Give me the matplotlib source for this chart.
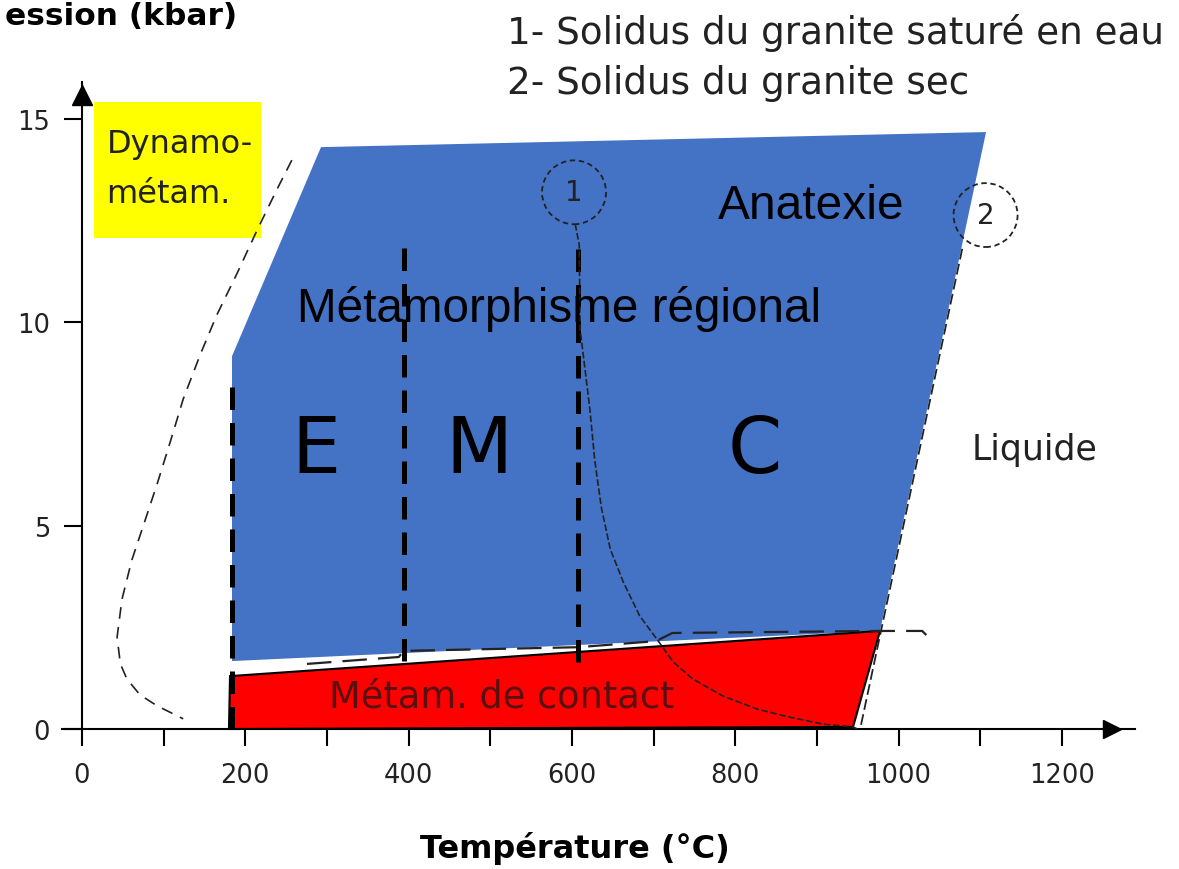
import matplotlib.pyplot as plt
from matplotlib.patches import Polygon, Rectangle, Ellipse

# axis ticks
x_major = [0, 200, 400, 600, 800, 1000, 1200]
x_minor = [100, 300, 500, 700, 900, 1100]
y_ticks = [0, 5, 10, 15]

# domaine du metamorphisme regional (bleu)
regional_T = [292.7, 1107.2, 977.3, 183.7, 183.7]
regional_P = [14.30, 14.67, 2.41, 1.67, 9.16]

# metamorphisme de contact (rouge)
contact_T = [181.3, 977.3, 944.3, 180.0]
contact_P = [1.30, 2.41, 0.05, 0.0]

# solidus du granite sature en eau (1)
sol1_T = [604, 609, 610, 616, 622, 628, 636, 647, 663, 683, 704, 724, 748, 785, 827, 867, 908, 944, 950]
sol1_P = [12.41, 11.9, 9.83, 8.85, 7.86, 6.60, 5.45, 4.42, 3.61, 2.78, 2.21, 1.65, 1.23, 0.81, 0.49, 0.29, 0.12, 0.05, 0.0]

# solidus du granite sec (2)
sol2_T = [1078, 953]
sol2_P = [11.8, 0.0]

# limite basse temperature (dynamometamorphisme)
dyn_T = [257, 239, 214, 190, 165, 145, 124, 108, 92, 75, 61, 49, 43, 47, 55, 71, 92, 124]
dyn_P = [13.98, 13.27, 12.24, 11.20, 10.17, 9.21, 8.11, 7.05, 6.02, 4.99, 4.15, 3.19, 2.26, 1.60, 1.23, 0.84, 0.57, 0.25]

# limite contact / regional
lim_T = [275.6, 388, 394, 607, 703, 723, 977, 1029, 1034]
lim_P = [1.60, 1.77, 1.92, 2.01, 2.16, 2.36, 2.41, 2.41, 2.31]

# limites des zones E / M / C
iso_T = [184, 394, 608]
iso_top = [8.7, 11.84, 12.0]
iso_bot = [0.0, 1.67, 1.65]

fig = plt.figure(figsize=(11.79, 8.7), dpi=100)
ax = fig.add_axes([0, 0, 1, 1])
ax.set_xlim(-100.4, 1343.5)
ax.set_ylim(-3.44, 17.94)

for s in ['top', 'right']:
    ax.spines[s].set_visible(False)
ax.spines['left'].set_position(('data', 0))
ax.spines['bottom'].set_position(('data', 0))
ax.spines['left'].set_bounds(0, 15.9)
ax.spines['bottom'].set_bounds(-25, 1290)
ax.spines['left'].set_linewidth(1.5)
ax.spines['bottom'].set_linewidth(1.5)

ax.set_xticks(x_major)
ax.set_xticks(x_minor, minor=True)
ax.set_yticks(y_ticks)
ax.tick_params(axis='x', which='both', direction='out', length=12, width=1.5, pad=12,
               labelsize=18.5, labelcolor='#222222')
ax.tick_params(axis='y', direction='out', length=13, width=1.5, pad=10,
               labelsize=18.5, labelcolor='#222222')

# arrows
ax.plot([1262], [0], marker='>', color='black', markersize=13, clip_on=False)
ax.plot([0], [15.58], marker='^', color='black', markersize=14, clip_on=False)

# zones
ax.add_patch(Polygon(list(zip(regional_T, regional_P)), closed=True,
                     facecolor='#4472C4', edgecolor='none', zorder=1))
ax.add_patch(Polygon(list(zip(contact_T, contact_P)), closed=True,
                     facecolor='#FF0000', edgecolor='black', linewidth=1.5, zorder=2))
ax.add_patch(Rectangle((14.7, 12.06), 204.5, 3.35, facecolor='#FFFF00', edgecolor='none', zorder=1))

# lines
ax.plot(dyn_T, dyn_P, color='#222222', lw=1.2, ls=(0, (7, 5)), zorder=3)
ax.plot(lim_T, lim_P, color='#222222', lw=1.6, ls=(0, (11, 5)), zorder=3)
for t, p0, p1 in zip(iso_T, iso_bot, iso_top):
    ax.plot([t, t], [p0, p1], color='black', lw=3.6, ls=(0, (4.5, 2.6)), zorder=4)
ax.plot(sol1_T, sol1_P, color='#222222', lw=1.2, ls=(0, (4, 1.5)), zorder=5)
ax.plot(sol2_T, sol2_P, color='#222222', lw=1.3, ls=(0, (6, 2.5)), zorder=5)

ax.add_patch(Ellipse((602.6, 13.19), 78.4, 1.57, facecolor='none', edgecolor='#222222',
                     lw=1.3, ls=(0, (3, 2)), zorder=5))
ax.add_patch(Ellipse((1106.6, 12.63), 78.4, 1.57, facecolor='none', edgecolor='#222222',
                     lw=1.3, ls=(0, (3, 2)), zorder=5))
ax.text(602.6, 13.19, '1', fontsize=20, color='#222222', ha='center', va='center', zorder=6)
ax.text(1106.6, 12.63, '2', fontsize=20, color='#222222', ha='center', va='center', zorder=6)

# texts
ax.text(263.3, 10.02, 'Métamorphisme régional', family='Liberation Sans', fontsize=34.3,
        color='black', ha='left', va='baseline', zorder=7)
ax.text(779, 12.56, 'Anatexie', family='Liberation Sans', fontsize=34.5,
        color='black', ha='left', va='baseline', zorder=7)
for lab, t in zip(['E', 'M', 'C'], [286.6, 486, 824]):
    ax.text(t, 6.86, lab, fontsize=56, color='black', ha='center', va='center', zorder=7)
ax.text(1090, 6.63, 'Liquide', fontsize=25, color='#222222', ha='left', va='baseline', zorder=7)
ax.text(30, 14.18, 'Dynamo-', fontsize=23, color='#222222', ha='left', va='baseline', zorder=7)
ax.text(30, 12.95, 'métam.', fontsize=23, color='#222222', ha='left', va='baseline', zorder=7)
ax.text(514, 0.81, 'Métam. de contact', fontsize=26.5, color='#5a1010', ha='center', va='center', zorder=7)

ax.text(520.5, 16.86, '1- Solidus du granite saturé en eau', fontsize=26.8, color='#222222',
        ha='left', va='baseline', clip_on=False)
ax.text(520.5, 15.63, '2- Solidus du granite sec', fontsize=26.8, color='#222222',
        ha='left', va='baseline', clip_on=False)

ax.text(-94.3, 17.32, 'ession (kbar)', fontsize=22.5, fontweight='bold', ha='left', va='baseline')
ax.text(603.8, -3.145, 'Température (°C)', fontsize=23, fontweight='bold', ha='center', va='baseline')

fig.savefig('out.png', dpi=100)
